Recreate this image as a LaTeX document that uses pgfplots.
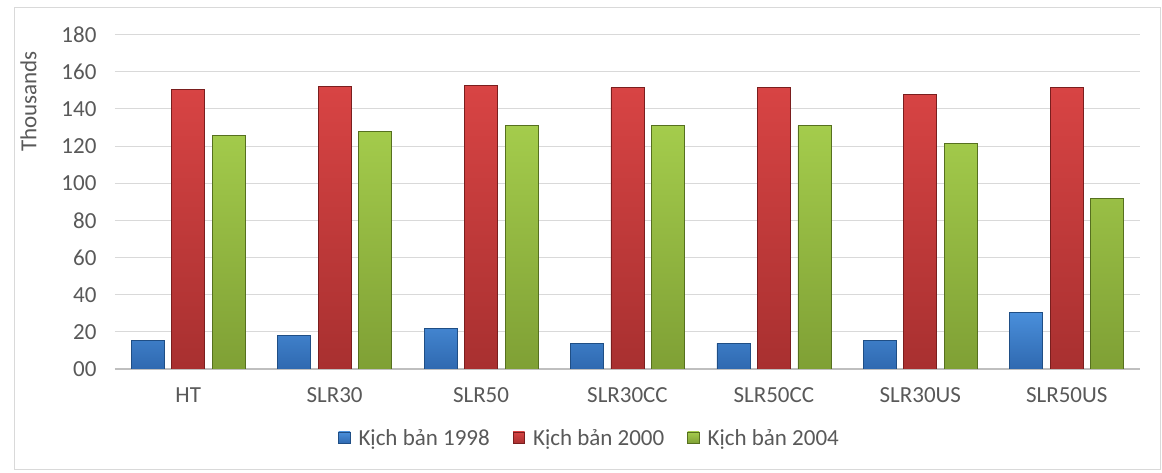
\documentclass[border=0pt]{standalone}
\usepackage{pgfplots}
\pgfplotsset{compat=1.18}
\usepackage{fontspec}
\setmainfont{Carlito}
\definecolor{txt}{HTML}{595959}
\definecolor{gridc}{HTML}{D9D9D9}
\definecolor{axc}{HTML}{BFBFBF}
\definecolor{blueT}{HTML}{4A8FDB}
\definecolor{blueB}{HTML}{2F69B0}
\definecolor{blueD}{HTML}{1F4E85}
\definecolor{redT}{HTML}{D84444}
\definecolor{redB}{HTML}{A83030}
\definecolor{redD}{HTML}{7A1E1E}
\definecolor{grnT}{HTML}{A4CC4C}
\definecolor{grnB}{HTML}{7FA035}
\definecolor{grnD}{HTML}{56701F}
\begin{document}
\begin{tikzpicture}
\useasboundingbox (0,0) rectangle (1162pt,473pt);
\fill[white] (0,0) rectangle (1162pt,473pt);
\draw[gridc, line width=1pt] (14pt,3pt) rectangle (1160pt,465pt);
\begin{axis}[
  at={(115pt,104pt)}, anchor=south west,
  scale only axis, width=1025pt, height=334.3pt,
  font=\fontsize{23}{27}\selectfont,
  /pgf/number format/assume math mode=true,
  ymin=0, ymax=180,
  xmin=-0.5, xmax=6.5,
  ytick={0,20,...,180},
  yticklabels={00,20,40,60,80,100,120,140,160,180},
  xtick=data,
  xticklabels={HT,SLR30,SLR50,SLR30CC,SLR50CC,SLR30US,SLR50US},
  major tick length=0pt,
  ymajorgrids, grid style={gridc, line width=1pt},
  axis x line*=bottom, axis y line*=left,
  x axis line style={axc, line width=1.5pt, -},
  y axis line style={draw=none},
  tick label style={text=txt},
  yticklabel style={anchor=east, xshift=-15pt},
  xticklabel style={anchor=center, yshift=-26pt},
  ylabel={Thousands},
  ylabel style={at={(axis description cs:-0.0844,0.8)}, anchor=center, text=txt},
  ybar=7.5pt, bar width=33pt,
  legend style={at={(axis description cs:0.463,-0.2064)}, anchor=center, draw=none, fill=none,
    legend columns=-1, text=txt, font=\fontsize{23}{27}\selectfont,
    /tikz/every odd column/.append style={column sep=6pt},
    /tikz/every even column/.append style={column sep=21pt}},
  legend image code/.code={\path[#1] (0pt,-5.5pt) rectangle (11.5pt,6pt);},
]
\addplot[draw=blueD, line width=0.8pt, top color=blueT, bottom color=blueB] coordinates {(0,15.3) (1,18.0) (2,21.6) (3,13.8) (4,13.8) (5,15.3) (6,30.6)};
\addplot[draw=redD, line width=0.8pt, top color=redT, bottom color=redB] coordinates {(0,150.5) (1,152.0) (2,152.6) (3,151.4) (4,151.4) (5,147.8) (6,151.4)};
\addplot[draw=grnD, line width=0.8pt, top color=grnT, bottom color=grnB] coordinates {(0,125.6) (1,127.7) (2,131.1) (3,131.1) (4,131.1) (5,121.4) (6,92.0)};
\legend{Kịch bản 1998, Kịch bản 2000, Kịch bản 2004}
\end{axis}
\end{tikzpicture}
\end{document}
